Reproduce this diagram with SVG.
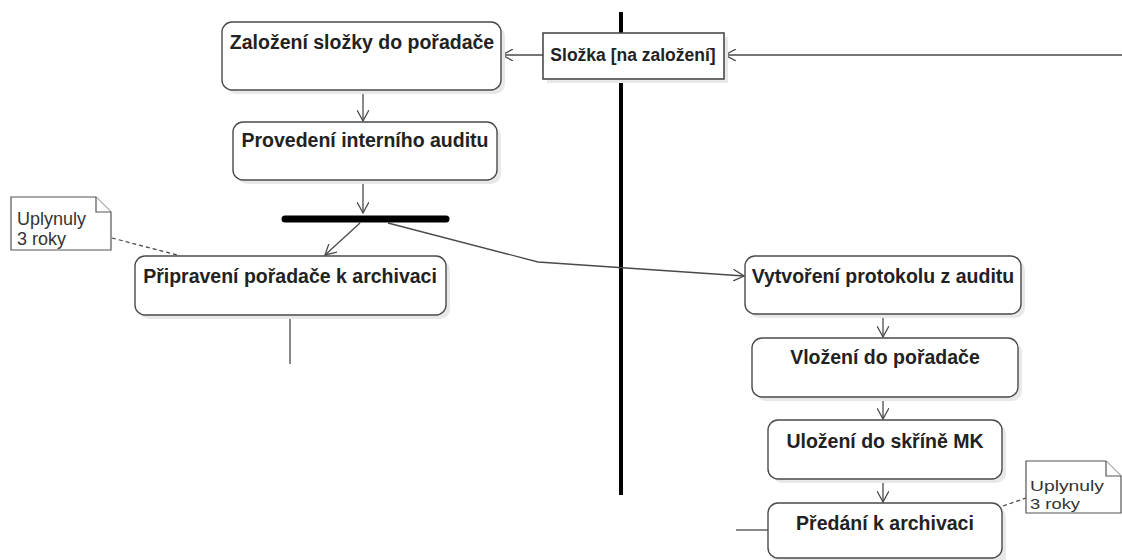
<svg xmlns="http://www.w3.org/2000/svg" width="1122" height="560" viewBox="0 0 1122 560">
  <style>
    .act { fill: #ffffff; stroke: #4a4a4a; stroke-width: 1.4; }
    .shadow { fill: #e8e8e8; }
    .obj { fill: #ffffff; stroke: #4a4a4a; stroke-width: 1.6; }
    .lbl { font-family: "Liberation Sans", Arial, sans-serif; font-size: 19.5px; font-weight: bold; fill: #222; }
    .olbl { font-family: "Liberation Sans", Arial, sans-serif; font-size: 17.5px; font-weight: bold; fill: #222; }
    .note { fill: #ffffff; stroke: #555; stroke-width: 1.2; }
    .ntxt { font-family: "Liberation Sans", Arial, sans-serif; font-size: 18px; fill: #333; }
    .ntxt2 { font-family: "Liberation Sans", Arial, sans-serif; font-size: 15.5px; fill: #333; }
    .flow { fill: none; stroke: #4a4a4a; stroke-width: 1.3; }
    .dash { fill: none; stroke: #444; stroke-width: 1.2; stroke-dasharray: 4 3; }
  </style>
  <defs>
    <marker id="open" viewBox="0 0 12 12" refX="11" refY="6" markerWidth="12" markerHeight="12" markerUnits="userSpaceOnUse" orient="auto">
      <path d="M0,0 L11,6 L0,12" fill="none" stroke="#4a4a4a" stroke-width="1.3"/>
    </marker>
  </defs>
  <rect width="1122" height="560" fill="#ffffff"/>

  <!-- swimlane divider -->
  <line x1="621" y1="12" x2="621" y2="495" stroke="#000" stroke-width="4"/>

  <!-- connectors -->
  <g id="connectors">
    <line class="flow" x1="1122" y1="55" x2="725" y2="55" marker-end="url(#open)"/>
    <line class="flow" x1="543" y1="55" x2="502" y2="55" marker-end="url(#open)"/>
    <line class="flow" x1="363" y1="90" x2="363" y2="121" marker-end="url(#open)"/>
    <line class="flow" x1="363" y1="180" x2="363" y2="213" marker-end="url(#open)"/>
    <line class="flow" x1="360" y1="223" x2="325" y2="255" marker-end="url(#open)"/>
    <polyline class="flow" points="388,223 538,262 744,276" marker-end="url(#open)"/>
    <line class="flow" x1="290" y1="315" x2="290" y2="364"/>
    <line class="flow" x1="883" y1="314" x2="883" y2="337" marker-end="url(#open)"/>
    <line class="flow" x1="883" y1="397" x2="883" y2="419" marker-end="url(#open)"/>
    <line class="flow" x1="883" y1="479" x2="883" y2="502" marker-end="url(#open)"/>
    <line class="flow" x1="736" y1="530" x2="768" y2="530"/>
    <line class="dash" x1="112" y1="238" x2="177" y2="255"/>
    <line class="dash" x1="1003" y1="506" x2="1026" y2="498"/>
  </g>

  <!-- fork bar -->
  <g id="fork">
    <line x1="285" y1="219" x2="446" y2="219" stroke="#000" stroke-width="7" stroke-linecap="round"/>
  </g>

  <g id="zalozeni">
    <rect class="shadow" x="226" y="26" width="279" height="68" rx="10"/>
    <rect class="act" x="222" y="22" width="279" height="68" rx="10"/>
    <text class="lbl" x="362" y="49" text-anchor="middle">Založení složky do pořadače</text>
  </g>

  <g id="slozka">
    <rect class="shadow" x="547" y="37" width="181" height="46"/>
    <rect class="obj" x="543" y="33" width="181" height="46"/>
    <text class="olbl" x="633" y="61" text-anchor="middle">Složka [na založení]</text>
  </g>

  <g id="audit">
    <rect class="shadow" x="237" y="126" width="264" height="58" rx="10"/>
    <rect class="act" x="233" y="122" width="264" height="58" rx="10"/>
    <text class="lbl" x="365" y="147" text-anchor="middle">Provedení interního auditu</text>
  </g>

  <g id="pripraveni">
    <rect class="shadow" x="139" y="260" width="311" height="59" rx="10"/>
    <rect class="act" x="135" y="256" width="311" height="59" rx="10"/>
    <text class="lbl" x="290" y="283" text-anchor="middle">Připravení pořadače k archivaci</text>
  </g>

  <g id="note1">
    <path class="note" d="M11,197 H96 L111,212 V250 H11 Z"/>
    <path class="note" d="M96,197 V212 H111"/>
    <text class="ntxt" x="17" y="225">Uplynuly</text>
    <text class="ntxt" x="17" y="245">3 roky</text>
  </g>

  <g id="protokol">
    <rect class="shadow" x="749" y="260" width="276" height="58" rx="10"/>
    <rect class="act" x="745" y="256" width="276" height="58" rx="10"/>
    <text class="lbl" x="883" y="283" text-anchor="middle">Vytvoření protokolu z auditu</text>
  </g>

  <g id="vlozeni">
    <rect class="shadow" x="756" y="342" width="266" height="59" rx="10"/>
    <rect class="act" x="752" y="338" width="266" height="59" rx="10"/>
    <text class="lbl" x="885" y="364" text-anchor="middle">Vložení do pořadače</text>
  </g>

  <g id="ulozeni">
    <rect class="shadow" x="772" y="424" width="234" height="59" rx="10"/>
    <rect class="act" x="768" y="420" width="234" height="59" rx="10"/>
    <text class="lbl" x="885" y="448" text-anchor="middle">Uložení do skříně MK</text>
  </g>

  <g id="predani">
    <rect class="shadow" x="772" y="507" width="234" height="59" rx="10"/>
    <rect class="act" x="768" y="503" width="234" height="55" rx="10"/>
    <text class="lbl" x="885" y="530" text-anchor="middle">Předání k archivaci</text>
  </g>

  <g id="note2">
    <path class="note" d="M1026,461 H1106 L1121,476 V513 H1026 Z"/>
    <path class="note" d="M1106,461 V476 H1121"/>
    <text class="ntxt2" x="1030" y="491" textLength="74" lengthAdjust="spacingAndGlyphs">Uplynuly</text>
    <text class="ntxt2" x="1030" y="509" textLength="50" lengthAdjust="spacingAndGlyphs">3 roky</text>
  </g>
</svg>
